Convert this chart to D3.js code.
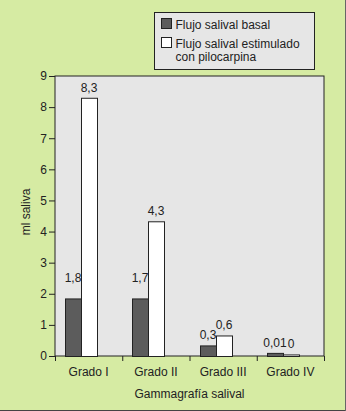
<!DOCTYPE html>
<html>
<head>
<meta charset="utf-8">
<style>
  body { margin: 0; background: #d6eba3; }
  svg { display: block; font-family: "Liberation Sans", Arial, sans-serif; }
  .axis text { font-size: 12px; fill: #222; }
  .axis path, .axis line { stroke: #222; }
</style>
</head>
<body>
<svg width="346" height="411"></svg>
<script src="https://cdn.jsdelivr.net/npm/d3@7"></script>
<script>

var categories = ["Grado I", "Grado II", "Grado III", "Grado IV"];
var seriesNames = ["Flujo salival basal", "Flujo salival estimulado|con pilocarpina"];
var basal = [1.85, 1.85, 0.34, 0.1];
var estimulado = [8.3, 4.33, 0.66, 0.05];
var basalLabels = ["1,8", "1,7", "0,3", "0,01"];
var estimuladoLabels = ["8,3", "4,3", "0,6", "0"];
var yTicks = [0, 1, 2, 3, 4, 5, 6, 7, 8, 9];

var colors = ["#5c5c5c", "#ffffff"];

var svg = d3.select("svg"),
    margin = {top: 76, right: 22, bottom: 55, left: 55},
    width = +svg.attr("width") - margin.left - margin.right,
    height = +svg.attr("height") - margin.top - margin.bottom;

// outer frame (dark edge right/bottom)
svg.append("rect").attr("width", 346).attr("height", 411).attr("fill", "#d6eba3");
svg.append("line").attr("x1", 0).attr("x2", 346).attr("y1", 410.5).attr("y2", 410.5).attr("stroke", "#444");
svg.append("line").attr("x1", 345.5).attr("x2", 345.5).attr("y1", 0).attr("y2", 411).attr("stroke", "#666");

var g = svg.append("g").attr("transform", "translate(" + margin.left + "," + margin.top + ")");

var x = d3.scaleBand().domain(categories).range([0, width]);
var y = d3.scaleLinear().domain([0, 9]).range([height, 0]);

g.append("rect")
    .attr("width", width)
    .attr("height", height)
    .attr("fill", "#e6e6e6")
    .attr("stroke", "#222")
    .attr("stroke-width", 1);

var barW = 16;
var series = [basal, estimulado];
var labels = [basalLabels, estimuladoLabels];

series.forEach(function(vals, s) {
    g.append("g").selectAll("rect")
      .data(vals)
      .enter().append("rect")
        .attr("x", function(d, i) { return Math.round(x(categories[i]) + 10 + s * barW) + 0.5; })
        .attr("y", function(d) { return y(d) + 0.5; })
        .attr("width", barW)
        .attr("height", function(d) { return height - y(d); })
        .attr("fill", colors[s])
        .attr("stroke", "#222")
        .attr("stroke-width", 1);

    // the taller dark bars have their labels set a bit higher
    g.append("g").selectAll("text")
      .data(vals)
      .enter().append("text")
        .attr("x", function(d, i) { return Math.round(x(categories[i]) + 10 + s * barW) + barW / 2; })
        .attr("y", function(d) { return y(d) - ((s === 0 && d > 1) ? 16 : 6); })
        .attr("text-anchor", "middle")
        .attr("font-size", 12)
        .attr("fill", "#222")
        .text(function(d, i) { return labels[s][i]; });
});

// y axis
var yAxis = g.append("g")
    .attr("class", "axis")
    .call(d3.axisLeft(y).tickValues(yTicks).tickSize(6).tickSizeOuter(0));
yAxis.select(".domain").remove();
yAxis.selectAll("text").attr("x", -8);

// x axis
var xAxis = g.append("g")
    .attr("class", "axis")
    .attr("transform", "translate(0," + height + ")")
    .call(d3.axisBottom(x).tickSize(0).tickSizeOuter(0));
xAxis.select(".domain").remove();
xAxis.selectAll("text").attr("y", 11);
xAxis.selectAll(".sep")
    .data(d3.range(categories.length + 1))
    .enter().append("line")
      .attr("class", "sep")
      .attr("x1", function(d) { return d * x.bandwidth() + 0.5; })
      .attr("x2", function(d) { return d * x.bandwidth() + 0.5; })
      .attr("y1", 0)
      .attr("y2", 5)
      .attr("stroke", "#222");

// axis titles
svg.append("text")
    .attr("transform", "translate(30," + (margin.top + height / 2 - 4) + ") rotate(-90)")
    .attr("text-anchor", "middle")
    .attr("font-size", 12)
    .attr("fill", "#222")
    .text("ml saliva");

svg.append("text")
    .attr("x", margin.left + width / 2)
    .attr("y", 398)
    .attr("text-anchor", "middle")
    .attr("font-size", 12)
    .attr("fill", "#222")
    .text("Gammagrafía salival");

// legend
var legend = svg.append("g").attr("transform", "translate(154.5,12.5)");
legend.append("rect")
    .attr("width", 160)
    .attr("height", 57)
    .attr("fill", "#e6e6e6")
    .attr("stroke", "#222");

seriesNames.forEach(function(name, i) {
    var row = legend.append("g").attr("transform", "translate(7," + (6 + i * 19) + ")");
    row.append("rect")
        .attr("width", 10)
        .attr("height", 10)
        .attr("fill", colors[i])
        .attr("stroke", "#222");
    name.split("|").forEach(function(line, j) {
        row.append("text")
            .attr("x", 14)
            .attr("y", 10 + j * 13)
            .attr("font-size", 12)
            .attr("fill", "#222")
            .text(line);
    });
});

</script>
</body>
</html>
